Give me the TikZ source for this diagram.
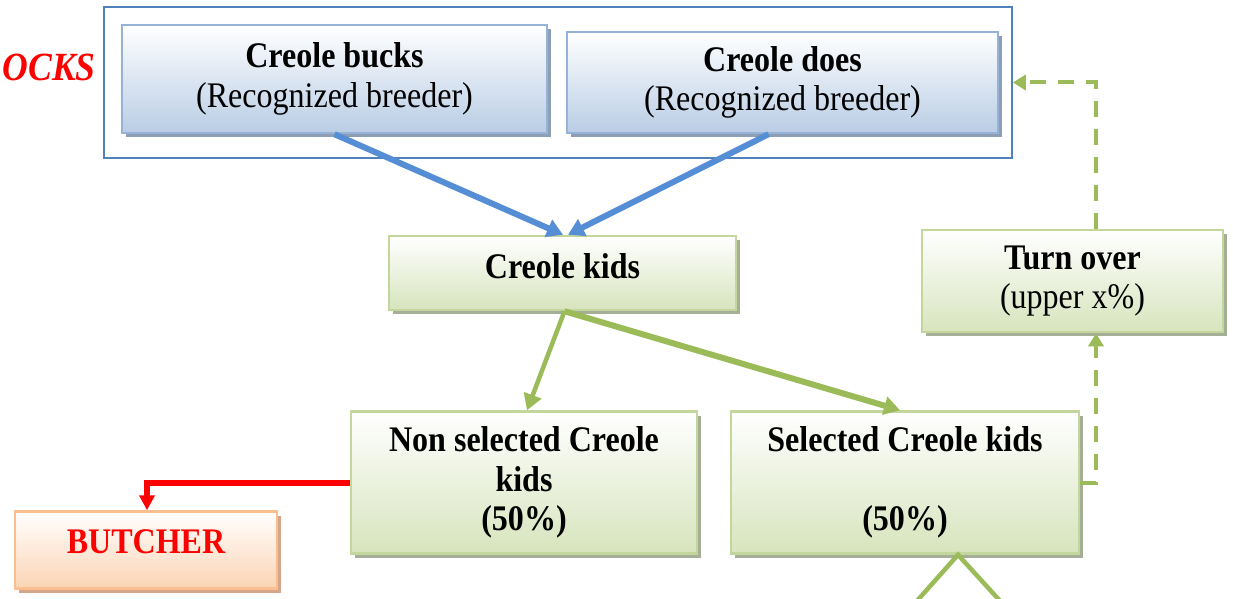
\documentclass[tikz,border=0pt]{standalone}
\usepackage{fontspec}
\setmainfont{Liberation Serif}[FakeStretch=0.89]
\usetikzlibrary{arrows.meta,shadows}
\definecolor{bluebd}{HTML}{95B3D7}
\definecolor{bluebot}{HTML}{B9CDE5}
\definecolor{blueshd}{HTML}{8E9FB5}
\definecolor{bluefr}{HTML}{4F81BD}
\definecolor{bluearr}{HTML}{558ED5}
\definecolor{greenbd}{HTML}{C3D69B}
\definecolor{greenbot}{HTML}{D7E4BD}
\definecolor{greenshd}{HTML}{A5AE96}
\definecolor{greenarr}{HTML}{9BBB59}
\definecolor{orbd}{HTML}{FABF8F}
\definecolor{orbot}{HTML}{FBD4B4}
\definecolor{orshd}{HTML}{D5A68A}
\tikzset{
  box/.style={draw, line width=2.5pt, inner sep=0pt, align=center,
    font=\fontsize{36}{39.5}\selectfont},
  bluebox/.style={box, draw=bluebd, top color=white, bottom color=bluebot,
    drop shadow={shadow xshift=4pt, shadow yshift=-4pt, fill=blueshd, opacity=1}},
  greenbox/.style={box, draw=greenbd, top color=white, bottom color=greenbot,
    drop shadow={shadow xshift=4pt, shadow yshift=-4pt, fill=greenshd, opacity=1}},
  orbox/.style={box, draw=orbd, top color=white, bottom color=orbot,
    drop shadow={shadow xshift=4pt, shadow yshift=-4pt, fill=orshd, opacity=1}},
  bluearrow/.style={draw=bluearr, line width=6pt, -{Triangle[length=16pt,width=18pt]}},
  greenarrow/.style={draw=greenarr, line width=6pt, -{Triangle[length=16pt,width=18pt]}},
  dasharrow/.style={draw=greenarr, line width=4pt, dash pattern=on 16pt off 12pt,
    -{Triangle[length=13pt,width=15pt]}},
  redarrow/.style={draw=red, line width=6pt, -{Triangle[length=15pt,width=15pt]}},
  txt/.style={inner sep=0pt, align=center, font=\fontsize{36}{39.5}\selectfont},
}
\begin{document}
\begin{tikzpicture}[x=1pt,y=-1pt]
\useasboundingbox[fill=white] (0,0) rectangle (1233,599);
% outer frame
\node[draw=bluefr, line width=1.5pt, minimum width=908pt, minimum height=151pt, inner sep=0pt] (stocks) at (558,82.5) {};
\node[txt, font=\fontsize{40}{44}\selectfont\bfseries\itshape, text=red, anchor=base east] (ocks) at (96,81) {OCKS};
% boxes
\node[bluebox, minimum width=425pt, minimum height=108pt] (bucks) at (334.5,79)
  {\textbf{Creole bucks}\\(Recognized breeder)};
\node[bluebox, minimum width=431pt, minimum height=101pt] (does) at (782.5,82.5)
  {\textbf{Creole does}\\(Recognized breeder)};
\node[greenbox, minimum width=347pt, minimum height=74pt] (kids) at (562.5,273) {};
\node[txt, font=\fontsize{36}{39.5}\selectfont\bfseries] (kidst) at (562.5,266) {Creole kids};
\node[greenbox, minimum width=301pt, minimum height=102pt] (turn) at (1072.5,281)
  {\textbf{Turn over}\\(upper x\%)};
\node[greenbox, minimum width=346pt, minimum height=142pt, font=\fontsize{36}{39.5}\selectfont\bfseries] (non) at (524,482.5)
  {Non selected Creole\\kids\\(50\%)};
\node[greenbox, minimum width=348pt, minimum height=142pt, font=\fontsize{36}{39.5}\selectfont\bfseries] (sel) at (905,482.5)
  {Selected Creole kids\\\strut\\(50\%)};
\node[orbox, minimum width=262pt, minimum height=77pt] (butcher) at (146,550) {};
\node[txt, font=\fontsize{36}{39.5}\selectfont\bfseries, text=red] (butchert) at (146,541.5) {BUTCHER};
% blue arrows
\draw[bluearrow] (bucks.south) -- ([xshift=0.5pt]kids.north);
\draw[bluearrow] ([xshift=-14pt]does.south) -- ([xshift=5.5pt]kids.north);
% green arrows
\draw[greenarrow, line width=4.5pt] ([xshift=2pt]kids.south) -- ([xshift=3pt]non.north);
\draw[greenarrow] ([xshift=2pt]kids.south) -- ([xshift=-5pt]sel.north);
% red
\draw[redarrow] (non.west) -| ([xshift=1pt]butcher.north);
% dashed
\coordinate (dx) at (1096,0);
\draw[dasharrow] (turn.north -| dx) |- (stocks.east);
\draw[dasharrow] (sel.east) -| (turn.south -| dx);
% bottom lines
\coordinate (bl) at (916,602);
\coordinate (br) at (1001,602);
\draw[draw=greenarr, line width=4.5pt] (bl) -- ([xshift=53pt]sel.south) -- (br);
\end{tikzpicture}
\end{document}
